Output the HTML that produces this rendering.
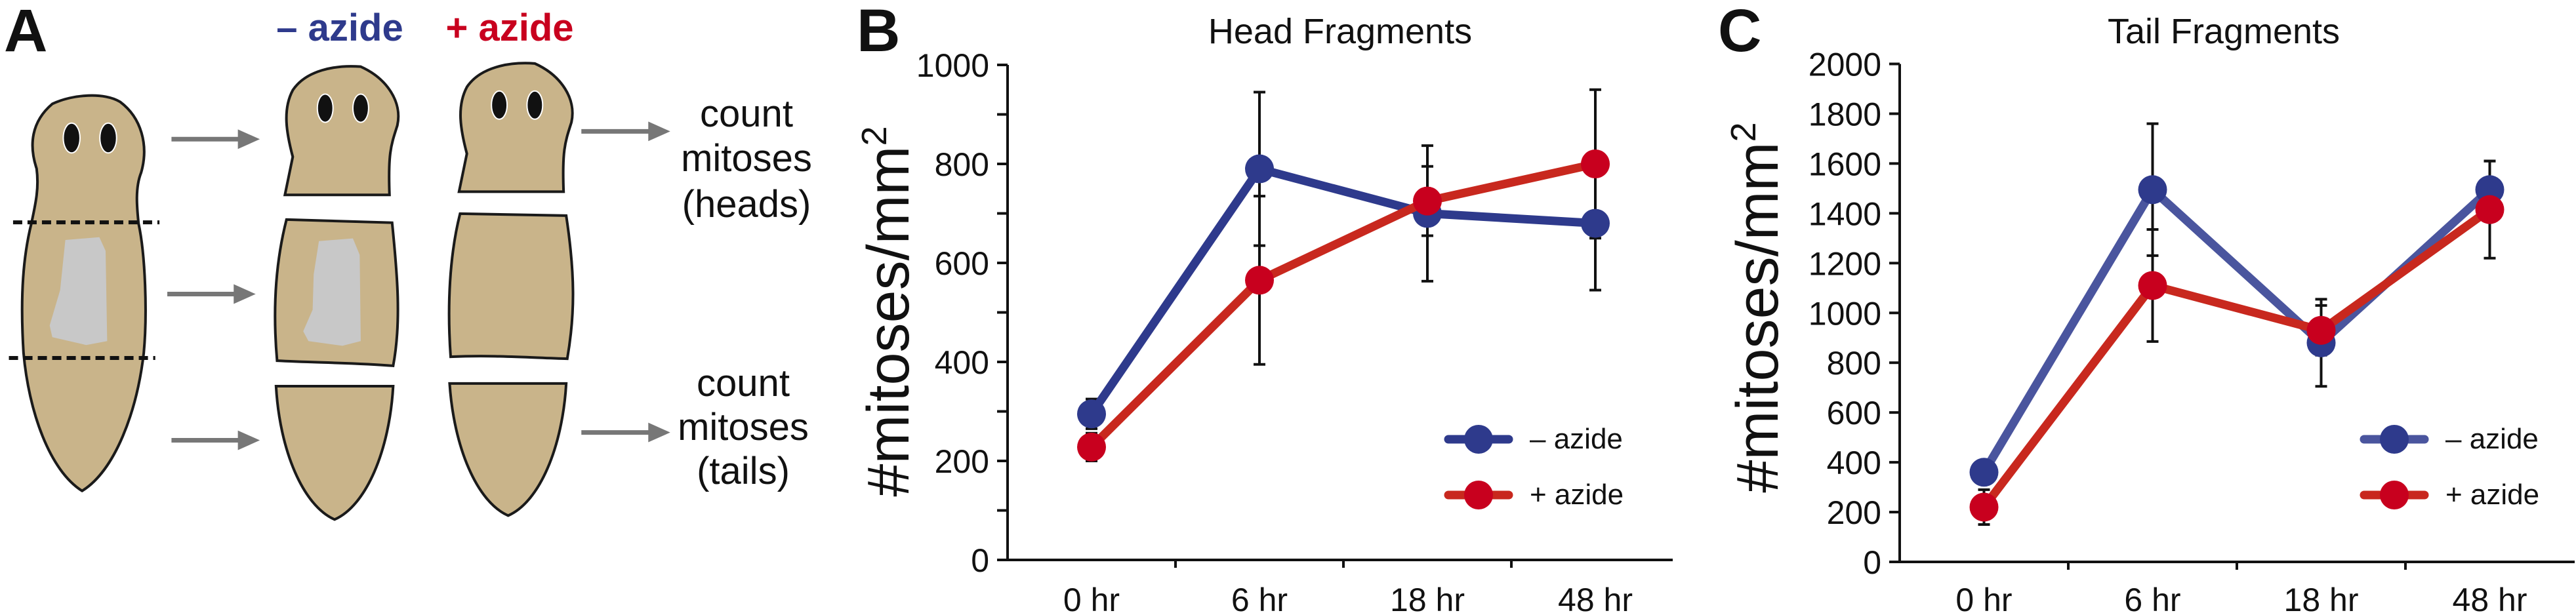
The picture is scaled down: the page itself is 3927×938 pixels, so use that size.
<!DOCTYPE html>
<html><head><meta charset="utf-8"><style>
html,body{margin:0;padding:0;background:#fff;}
svg{display:block;font-family:"Liberation Sans",sans-serif;}
</style></head><body>
<svg id="fig" width="3927" height="938" viewBox="0 0 3927 938" xmlns="http://www.w3.org/2000/svg">
<g id="panelA">
 <text x="6" y="78" font-size="92" font-weight="bold" fill="#111">A</text>
 <text x="518" y="62" font-size="58" font-weight="bold" fill="#2e3a8c" text-anchor="middle">– azide</text>
 <text x="777" y="62" font-size="58" font-weight="bold" fill="#c8001e" text-anchor="middle">+ azide</text>
 <g transform="scale(0.797,0.598)" stroke="#1a1a1a" fill="#c9b48a">
  <path vector-effect="non-scaling-stroke" stroke-width="4" d="M100,265 C140,240 200,235 230,260 C270,300 285,370 270,440 C258,480 262,530 265,570 C278,650 282,800 275,900 C262,1050 220,1200 157,1252 C95,1200 55,1050 45,900 C38,750 45,650 60,570 C68,520 75,480 70,430 C55,370 60,310 100,265 Z"/>
  <polygon stroke="none" fill="#c8c8c8" points="125,612 190,605 202,640 205,870 165,880 100,860 95,830 115,740"/>
  <ellipse cx="137" cy="352" rx="16" ry="38" fill="#111" stroke="#fff" vector-effect="non-scaling-stroke" stroke-width="2"/>
  <ellipse cx="207" cy="352" rx="16" ry="38" fill="#111" stroke="#fff" vector-effect="non-scaling-stroke" stroke-width="2"/>
  <line x1="25" y1="567" x2="305" y2="567" stroke="#111" vector-effect="non-scaling-stroke" stroke-width="6" stroke-dasharray="14,8"/>
  <line x1="17" y1="913" x2="297" y2="913" stroke="#111" vector-effect="non-scaling-stroke" stroke-width="6" stroke-dasharray="14,8"/>
  <path vector-effect="non-scaling-stroke" stroke-width="4" d="M545,497 L560,400 C548,340 540,280 560,230 C585,180 640,165 690,170 C740,200 770,260 760,320 C748,370 742,390 745,497 Z"/>
  <ellipse cx="622" cy="276" rx="15" ry="36" fill="#111" stroke="#fff" vector-effect="non-scaling-stroke" stroke-width="2"/>
  <ellipse cx="690" cy="276" rx="15" ry="36" fill="#111" stroke="#fff" vector-effect="non-scaling-stroke" stroke-width="2"/>
  <g transform="translate(333,-8)">
   <path vector-effect="non-scaling-stroke" stroke-width="4" d="M545,497 L560,400 C548,340 540,280 560,230 C585,180 640,165 690,170 C740,200 770,260 760,320 C748,370 742,390 745,497 Z"/>
   <ellipse cx="622" cy="276" rx="15" ry="36" fill="#111" stroke="#fff" vector-effect="non-scaling-stroke" stroke-width="2"/>
   <ellipse cx="690" cy="276" rx="15" ry="36" fill="#111" stroke="#fff" vector-effect="non-scaling-stroke" stroke-width="2"/>
  </g>
  <path vector-effect="non-scaling-stroke" stroke-width="4" d="M548,560 L750,568 C760,700 768,820 752,933 C680,925 600,925 530,920 C522,800 525,680 548,560Z"/>
  <polygon stroke="none" fill="#c8c8c8" points="610,615 675,608 688,650 690,870 655,882 590,870 580,845 598,790 600,700"/>
  <path vector-effect="non-scaling-stroke" stroke-width="4" d="M880,545 L1083,550 C1100,700 1100,800 1085,915 C1010,912 940,905 862,910 C855,780 860,650 880,545Z"/>
  <path vector-effect="non-scaling-stroke" stroke-width="4" d="M528,985 L752,985 C745,1150 700,1290 640,1325 C580,1290 535,1150 528,985Z"/>
  <path vector-effect="non-scaling-stroke" stroke-width="4" d="M860,978 L1083,978 C1076,1140 1032,1280 972,1315 C912,1280 868,1140 860,978Z"/>
  <g stroke="#777" fill="#777">
   <line x1="328" y1="355" x2="470" y2="355" vector-effect="non-scaling-stroke" stroke-width="7"/><polygon stroke="none" points="455,330 497,355 455,380"/>
   <line x1="320" y1="750" x2="462" y2="750" vector-effect="non-scaling-stroke" stroke-width="7"/><polygon stroke="none" points="447,725 489,750 447,775"/>
   <line x1="328" y1="1123" x2="470" y2="1123" vector-effect="non-scaling-stroke" stroke-width="7"/><polygon stroke="none" points="455,1098 497,1123 455,1148"/>
   <line x1="1112" y1="335" x2="1255" y2="335" vector-effect="non-scaling-stroke" stroke-width="7"/><polygon stroke="none" points="1240,310 1282,335 1240,360"/>
   <line x1="1112" y1="1103" x2="1255" y2="1103" vector-effect="non-scaling-stroke" stroke-width="7"/><polygon stroke="none" points="1240,1078 1282,1103 1240,1128"/>
  </g>
 </g>
 <g font-size="58" fill="#111" text-anchor="middle">
  <text x="1138" y="193">count</text><text x="1138" y="261">mitoses</text><text x="1138" y="331">(heads)</text>
 </g>
 <g font-size="58" fill="#111" text-anchor="middle">
  <text x="1133" y="604">count</text><text x="1133" y="671">mitoses</text><text x="1133" y="738">(tails)</text>
 </g>
</g>
<g id="panelB"></g>
<g id="panelC"></g>
</svg>
<script>
// Panel B data (Head Fragments)
const categories = ["0 hr", "6 hr", "18 hr", "48 hr"];
const headMinus = [295, 790, 700, 680];
const headMinusErr = [30, 155, 137, 135];
const headPlus = [228, 565, 725, 800];
const headPlusErr = [28, 170, 70, 150];
const headTicks = [0, 200, 400, 600, 800, 1000];
// Panel C data (Tail Fragments)
const tailMinus = [360, 1495, 880, 1495];
const tailMinusErr = [45, 265, 175, 115];
const tailPlus = [220, 1110, 930, 1415];
const tailPlusErr = [70, 225, 100, 195];
const tailTicks = [0, 200, 400, 600, 800, 1000, 1200, 1400, 1600, 1800, 2000];
const seriesNames = ["– azide", "+ azide"];

const NS = "http://www.w3.org/2000/svg";
function mk(parent, tag, attrs) {
  const e = document.createElementNS(NS, tag);
  for (const k in attrs) e.setAttribute(k, attrs[k]);
  parent.appendChild(e);
  return e;
}

function drawChart(g, cfg) {
  const yScale = v => cfg.y0 - (v - 0) / cfg.ymax * (cfg.y0 - cfg.y1);
  const xScale = i => cfg.x0 + cfg.step * (i + 0.5);
  // panel label & title
  let t = mk(g, "text", {x: cfg.labelX, y: 78, "font-size": 92, "font-weight": "bold", fill: "#111"});
  t.textContent = cfg.letter;
  
  
  t = mk(g, "text", {x: cfg.titleX, y: 66, "font-size": 54, fill: "#111", "text-anchor": "middle"});
  t.textContent = cfg.title;
  
  
  // y title
  t = mk(g, "text", {x: 0, y: 0, "font-size": 90, fill: "#111", "text-anchor": "middle", transform: `translate(${cfg.yTitleX},${cfg.yTitleY}) rotate(-90)`});
  t.innerHTML = '#mitoses/mm<tspan font-size="54" dy="-34">2</tspan>';
  
  
  // axes
  let a = mk(g, "line", {x1: cfg.x0, y1: cfg.y1, x2: cfg.x0, y2: cfg.y0 + 2, stroke: "#111", "stroke-width": 4});
  
  
  a = mk(g, "line", {x1: cfg.x0 - 2, y1: cfg.y0, x2: cfg.xEnd, y2: cfg.y0, stroke: "#111", "stroke-width": 4});
  
  
  // y ticks
  cfg.ticks.forEach(v => {
    const y = yScale(v);
    mk(g, "line", {x1: cfg.x0 - 16, y1: y, x2: cfg.x0, y2: y, stroke: "#111", "stroke-width": 4});
    const l = mk(g, "text", {x: cfg.x0 - 28, y: y + 18, "font-size": 50, fill: "#111", "text-anchor": "end"});
    l.textContent = v;
    
    
  });
  if (cfg.minor) cfg.ticks.slice(0, -1).forEach((v, i) => {
    const y = yScale((v + cfg.ticks[i + 1]) / 2);
    mk(g, "line", {x1: cfg.x0 - 16, y1: y, x2: cfg.x0, y2: y, stroke: "#111", "stroke-width": 4});
  });
  // x ticks and labels
  categories.forEach((c, i) => {
    const xb = cfg.x0 + cfg.step * i;
    if (i > 0) mk(g, "line", {x1: xb, y1: cfg.y0, x2: xb, y2: cfg.y0 + 12, stroke: "#111", "stroke-width": 4});
    const l = mk(g, "text", {x: xScale(i), y: 932, "font-size": 50, fill: "#111", "text-anchor": "middle"});
    l.textContent = c;
    
    
  });
  // series
  const series = [
    {vals: cfg.minus, err: cfg.minusErr, line: cfg.blueLine, dot: "#2e3a8c", name: "series-minus-azide"},
    {vals: cfg.plus, err: cfg.plusErr, line: "#c8281e", dot: "#c8001e", name: "series-plus-azide"}
  ];
  series.forEach(s => {
    s.vals.forEach((v, i) => {
      const x = xScale(i), yt = yScale(v + s.err[i]), yb = yScale(v - s.err[i]);
      const eb = mk(g, "path", {d: `M${x},${yt}V${yb}M${x-9},${yt}H${x+9}M${x-9},${yb}H${x+9}`, stroke: "#111", "stroke-width": 4, fill: "none"});
      
      
    });
  });
  series.forEach(s => {
    const pts = s.vals.map((v, i) => `${xScale(i)},${yScale(v)}`).join(" ");
    const pl = mk(g, "polyline", {points: pts, fill: "none", stroke: s.line, "stroke-width": 13, "stroke-linejoin": "round"});
    
    
    s.vals.forEach((v, i) => {
      const c = mk(g, "ellipse", {cx: xScale(i), cy: yScale(v), rx: 22, ry: 22, fill: s.dot});
      
      
    });
  });
  // legend
  [0, 1].forEach(k => {
    const y = cfg.legY[k];
    const s = series[k];
    const lg = mk(g, "g", {});
    
    
    mk(lg, "line", {x1: cfg.legX - 46, y1: y, x2: cfg.legX + 46, y2: y, stroke: s.line, "stroke-width": 13, "stroke-linecap": "round"});
    mk(lg, "ellipse", {cx: cfg.legX, cy: y, rx: 22, ry: 22, fill: s.dot});
    const tx = mk(lg, "text", {x: cfg.legX + 78, y: y + 14, "font-size": 44, fill: "#111"});
    tx.textContent = seriesNames[k];
  });
}

drawChart(document.getElementById("panelB"), {
  letter: "B", labelX: 1306, title: "Head Fragments", titleX: 2043,
  yTitleX: 1385, yTitleY: 475,
  x0: 1536, step: 256, xEnd: 2550, y0: 854, y1: 99, ymax: 1000,
  ticks: headTicks, minor: true,
  minus: headMinus, minusErr: headMinusErr, plus: headPlus, plusErr: headPlusErr,
  blueLine: "#2e3a8c", legX: 2254, legY: [670, 755]
});
drawChart(document.getElementById("panelC"), {
  letter: "C", labelX: 2619, title: "Tail Fragments", titleX: 3390,
  yTitleX: 2710, yTitleY: 469,
  x0: 2896, step: 257, xEnd: 3925, y0: 857, y1: 97.5, ymax: 2000,
  ticks: tailTicks, minor: false,
  minus: tailMinus, minusErr: tailMinusErr, plus: tailPlus, plusErr: tailPlusErr,
  blueLine: "#4a559e", legX: 3650, legY: [670, 755]
});
</script>
</body></html>
